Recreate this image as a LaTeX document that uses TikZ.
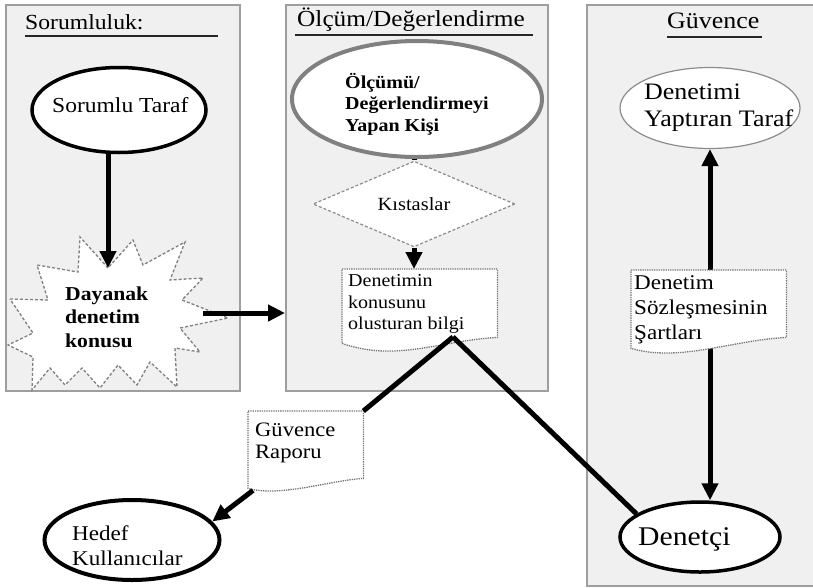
\documentclass[tikz,border=0pt]{standalone}
\usepackage{fontspec}
\setmainfont[FakeStretch=1.1]{Liberation Serif}
\usetikzlibrary{arrows.meta,shapes.geometric,calc}
\newcommand\fs[1]{\fontsize{#1}{#1}\selectfont}
\begin{document}
\begin{tikzpicture}[x=1pt,y=-1pt,
  panel/.style={draw=black!38, line width=1.8pt, fill=black!6, rectangle, inner sep=0, anchor=north west},
  hdr/.style={anchor=base west, inner sep=0},
  hline/.style={line width=2.5pt, black!85},
  ell/.style={ellipse, draw, fill=white, inner sep=0},
  txt/.style={anchor=west, align=left, inner sep=0},
  arr/.style={line width=5pt, -{Triangle[length=17pt,width=16pt]}},
  arrboth/.style={line width=5pt, {Triangle[length=17pt,width=16pt]}-{Triangle[length=17pt,width=16pt]}},
  conn/.style={line width=5pt},
  docbox/.style={rectangle, inner sep=0, anchor=north west},
  docline/.style={draw=black!55, densely dotted, line width=1.3pt, fill=white},
  dashline/.style={draw=black!50, dash pattern=on 3pt off 2pt, line width=1.3pt, fill=white},
]
\useasboundingbox (0,0) rectangle (813,587);

% panels
\node[panel, minimum width=234pt, minimum height=386pt] (pl) at (5,4) {};
\node[panel, minimum width=262pt, minimum height=386pt] (pm) at (285,4) {};
\node[panel, minimum width=240pt, minimum height=581pt] (pr) at (586,4) {};

% headers
\node[hdr, font=\fs{21.5}] (h1) at (25,29) {Sorumluluk:};
\draw[hline] (25,36) -- (218,36);
\node[hdr, font=\fs{23}] (h2) at (297,26.5) {Ölçüm/Değerlendirme};
\draw[hline] (295,35) -- (533,35);
\node[hdr, font=\fs{23.6}] (h3) at (667,28) {Güvence};
\draw[hline] (667,37) -- (762,37);

% left column
\node[ell, line width=3.5pt, minimum width=174pt, minimum height=85pt] (st) at (119,110) {};
\node[hdr, font=\fs{21.4}] (stt) at (52,112) {Sorumlu Taraf};

\draw[dashline] (10,299) -- (48,300) -- (37,265) -- (78,272) -- (80,237) -- (108,268)
  -- (133,240) -- (143,265) -- (185,242) -- (170,280) -- (203,278) -- (182,300)
  -- (228,318) -- (180,328) -- (200,352) -- (175,348) -- (177,387) -- (150,362)
  -- (137,385) -- (118,365) -- (100,388) -- (82,368) -- (65,385) -- (50,368)
  -- (32,390) -- (33,357) -- (8,345) -- (33,333) -- cycle;
\node[txt, font=\bfseries\fontsize{19.7}{23.5}\selectfont] (dk) at (65,317) {Dayanak\\denetim\\konusu};

\coordinate (a1) at (108,268);
\draw[arr] (st.south -| a1) -- (a1);
\coordinate (b1) at (203,313);
\draw[arr] (b1) -- (b1 -| pm.west);

% middle column
\node[ell, draw=black!50, line width=4pt, minimum width=250pt, minimum height=116pt] (oy) at (417,99) {};
\node[txt, font=\bfseries\fontsize{18.2}{21.5}\selectfont] (oyt) at (345,104) {Ölçümü/\\Değerlendirmeyi\\Yapan Kişi};

\node[diamond, draw=black!45, dash pattern=on 3pt off 2pt, line width=1.2pt, fill=white, inner sep=0,
      minimum width=202pt, minimum height=48pt, font=\fs{18.6}] (kst) at (414,204) {Kıstaslar};
\draw[conn] (oy.south -| kst.north) -- (kst.north);

\node[docbox, minimum width=155pt, minimum height=74pt] (doc1) at (342,269) {};
\draw[arr] (kst.south) -- (kst.south |- doc1.north);
\draw[docline] (doc1.north west) -- (doc1.north east) -- ($(doc1.south east)+(0,-6)$)
  .. controls ($(doc1.south east)+(-57,-3)$) and ($(doc1.south west)+(55,19)$) .. (doc1.south west) -- cycle;
\node[txt, font=\fontsize{18.2}{21.5}\selectfont] (doc1t) at (348,304) {Denetimin\\konusunu\\olusturan bilgi};

% right column
\node[ell, draw=black!45, line width=1.2pt, minimum width=180pt, minimum height=81pt] (dyt) at (710,108) {};
\node[txt, font=\fontsize{23.6}{27}\selectfont] (dytt) at (644,108) {Denetimi\\Yaptıran Taraf};

\node[ell, line width=3.5pt, minimum width=160pt, minimum height=70pt] (den) at (700,537) {};
\node[txt, font=\fs{27}] (dent) at (638,539) {Denetçi};

\draw[arrboth] (dyt.south) -- (dyt.south |- den.north);

\node[docbox, minimum width=155pt, minimum height=78pt] (doc2) at (631,270) {};
\draw[docline] (doc2.north west) -- (doc2.north east) -- ($(doc2.south east)+(0,-11)$)
  .. controls ($(doc2.south east)+(-56,-8)$) and ($(doc2.south west)+(49,14)$) .. (doc2.south west) -- cycle;
\node[txt, font=\fontsize{21}{25}\selectfont] (doc2t) at (634,310) {Denetim\\Sözleşmesinin\\Şartları};

% bottom left
\node[docbox, minimum width=115pt, minimum height=77pt] (doc3) at (248,411) {};
\draw[docline] (doc3.north west) -- (doc3.north east) -- ($(doc3.south east)+(0,-10)$)
  .. controls ($(doc3.south east)+(-33,-8)$) and ($(doc3.south west)+(32,9)$) .. (doc3.south west) -- cycle;
\node[txt, font=\fontsize{20.5}{21.7}\selectfont] (doc3t) at (255,443) {Güvence\\Raporu};

\node[ell, line width=4pt, minimum width=175pt, minimum height=80pt] (hk) at (132,540) {};
\node[txt, font=\fontsize{21}{25}\selectfont] (hkt) at (72,546) {Hedef\\Kullanıcılar};

% connectors from the information document
\coordinate (apex) at (453,337);
\draw[conn] (apex) -- (doc3.north east);
\draw[conn] (apex) -- (den.160);
\draw[arr] ($(doc3.south west)+(5,2)$) -- (hk.13);
\end{tikzpicture}
\end{document}
